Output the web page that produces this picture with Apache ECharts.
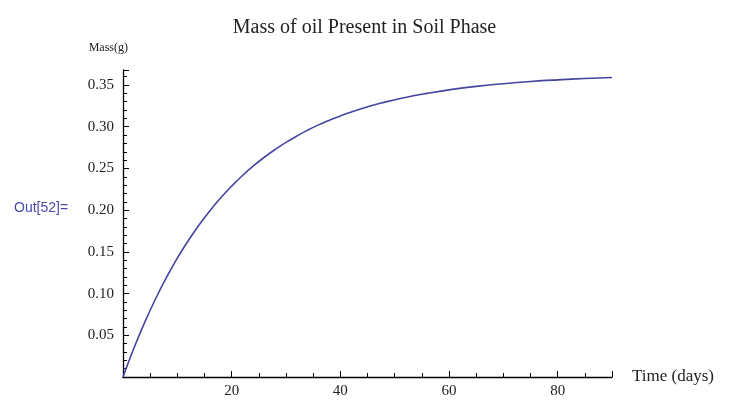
<!DOCTYPE html>
<html><head><meta charset="utf-8">
<script src="https://cdn.jsdelivr.net/npm/echarts@6/dist/echarts.min.js"></script>
<style>html,body{margin:0;padding:0;background:#fff}#c{width:729px;height:400px}</style>
</head><body><div id="c"></div>
<script>
const titleText = 'Mass of oil Present in Soil Phase';
const yName = 'Mass(g)';
const xName = 'Time (days)';
const outLabel = 'Out[52]=';
const days = [0,2,4,6,8,10,12,14,16,18,20,22,24,26,28,30,32,34,36,38,40,44,48,52,56,60,65,70,75,80,85,90];
const mass = [0,0.0345,0.0656,0.0938,0.1193,0.1425,0.1633,0.1822,0.1994,0.2148,0.2288,0.2415,0.2530,0.2634,0.2727,0.2812,0.2889,0.2959,0.3022,0.3078,0.3130,0.3219,0.3292,0.3351,0.3400,0.3442,0.3484,0.3516,0.3542,0.3562,0.3578,0.3590];

const chart = echarts.init(document.getElementById('c'));
const serif = '"Liberation Serif","DejaVu Serif",serif';
chart.setOption({
  animation:false,
  title:{text:titleText,left:'center',top:13,textStyle:{fontFamily:serif,fontSize:20,fontWeight:'normal',color:'#222'}},
  grid:{left:123,right:117,top:70,bottom:23},
  graphic:[{type:'text',left:14,top:201,style:{text:outLabel,fill:'#4a4aa8',font:'14px "Liberation Sans",Arial,sans-serif'}}],
  xAxis:{type:'value',min:0,max:90,interval:20,name:xName,nameLocation:'end',nameGap:20,
    nameTextStyle:{fontFamily:serif,fontSize:17,color:'#222',verticalAlign:'middle'},
    axisLine:{show:true,onZero:false,lineStyle:{color:'#000',width:1.3}},
    axisTick:{show:true,inside:true,length:6,lineStyle:{color:'#000'}},
    minorTick:{show:true,splitNumber:4,length:4,lineStyle:{color:'#000'}},
    splitLine:{show:false},
    axisLabel:{fontFamily:serif,fontSize:15,color:'#222',margin:7,showMaxLabel:false,formatter:v=>(v===0||v===90)?'':String(v)}},
  yAxis:{type:'value',min:0,max:0.368,interval:0.05,name:yName,nameLocation:'end',nameGap:16,
    nameTextStyle:{fontFamily:serif,fontSize:12,color:'#222',align:'right',padding:[0,-5,0,0]},
    axisLine:{show:true,onZero:false,lineStyle:{color:'#000',width:1.3}},
    axisTick:{show:true,inside:true,length:6,lineStyle:{color:'#000'}},
    minorTick:{show:true,splitNumber:5,length:4,lineStyle:{color:'#000'}},
    splitLine:{show:false},
    axisLabel:{fontFamily:serif,fontSize:15,color:'#222',margin:9,showMaxLabel:false,formatter:v=>v===0?'':v.toFixed(2)}},
  series:[{type:'line',data:days.map((d,i)=>[d,mass[i]]),smooth:true,showSymbol:false,
    lineStyle:{color:'#4444a0',width:1.6}}]
});
</script></body></html>
